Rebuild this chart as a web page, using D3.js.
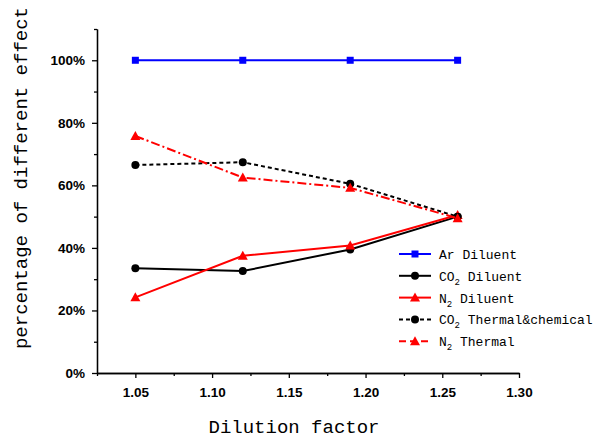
<!DOCTYPE html>
<html>
<head>
    <script src="https://d3js.org/d3.v7.min.js"></script>
    <style>
        body { margin: 0; background: #ffffff; }
    </style>
</head>
<body>
    <svg id="chart" width="595" height="441"></svg>
    <script>
        // data
        var dilution = [1.05, 1.12, 1.19, 1.26];
        var arDiluent = [100, 100, 100, 100];
        var co2Diluent = [33.5, 32.6, 39.5, 50.0];
        var n2Diluent = [24.2, 37.5, 40.8, 50.5];
        var co2Thermal = [66.5, 67.4, 60.5, 50.0];
        var n2Thermal = [75.8, 62.5, 59.2, 49.5];
        var xTicks = [1.05, 1.10, 1.15, 1.20, 1.25, 1.30];
        var yTicks = [0, 20, 40, 60, 80, 100];

        var series = [
            { name: "Ar", rest: " Diluent", sub: false, values: arDiluent, color: "#0000ff", dash: null, marker: "square" },
            { name: "CO", rest: " Diluent", sub: true, values: co2Diluent, color: "#000000", dash: null, marker: "circle" },
            { name: "N", rest: " Diluent", sub: true, values: n2Diluent, color: "#ff0000", dash: null, marker: "triangle" },
            { name: "CO", rest: " Thermal&chemical", sub: true, values: co2Thermal, color: "#000000", dash: "4,3", marker: "circle" },
            { name: "N", rest: " Thermal", sub: true, values: n2Thermal, color: "#ff0000", dash: "9,3,2,3", marker: "triangle" }
        ];

        var svg = d3.select("#chart");
        var plotLeft = 97, plotRight = 519, plotTop = 29, plotBottom = 373;

        var x = d3.scaleLinear().domain([1.025, 1.30]).range([plotLeft, plotRight]);
        var y = d3.scaleLinear().domain([0, 110]).range([plotBottom, plotTop]);

        var xAxis = d3.axisBottom(x)
            .tickValues(xTicks)
            .tickFormat(d3.format(".2f"))
            .tickSizeInner(5).tickSizeOuter(0);
        var xMinor = d3.axisBottom(x)
            .tickValues([1.025, 1.075, 1.125, 1.175, 1.225, 1.275])
            .tickFormat("").tickSizeInner(3).tickSizeOuter(0);
        var yAxis = d3.axisLeft(y)
            .tickValues(yTicks)
            .tickFormat(function (d) { return d + "%"; })
            .tickSizeInner(5).tickSizeOuter(0);
        var yMinor = d3.axisLeft(y)
            .tickValues([10, 30, 50, 70, 90, 110])
            .tickFormat("").tickSizeInner(3).tickSizeOuter(0);

        function styleAxis(g) {
            g.selectAll("path,line").style("stroke", "#000").style("stroke-width", "1.3px");
            g.selectAll("text")
                .style("font-family", "Liberation Sans, Arial, sans-serif")
                .style("font-weight", "bold")
                .style("font-size", "13.5px")
                .style("fill", "#000");
        }

        svg.append("g").attr("transform", "translate(0," + plotBottom + ")").call(xMinor).call(styleAxis);
        svg.append("g").attr("transform", "translate(0," + plotBottom + ")").call(xAxis).call(styleAxis)
            .selectAll("text").attr("dy", "1.15em");
        svg.append("g").attr("transform", "translate(" + plotLeft + ",0)").call(yMinor).call(styleAxis);
        svg.append("g").attr("transform", "translate(" + plotLeft + ",0)").call(yAxis).call(styleAxis)
            .selectAll("text").attr("x", -12);

        // axis titles
        svg.append("text")
            .attr("x", 294).attr("y", 433)
            .attr("text-anchor", "middle")
            .style("font-family", "Liberation Mono, monospace")
            .style("font-size", "19px")
            .text("Dilution factor");

        svg.append("text")
            .attr("transform", "translate(27," + 178 + ") rotate(-90)")
            .attr("text-anchor", "middle")
            .style("font-family", "Liberation Mono, monospace")
            .style("font-size", "19px")
            .text("percentage of different effect");

        function drawMarker(g, type, cx, cy, color) {
            if (type === "square") {
                g.append("rect").attr("x", cx - 3.5).attr("y", cy - 3.5)
                    .attr("width", 7).attr("height", 7).style("fill", color);
            } else if (type === "circle") {
                g.append("circle").attr("cx", cx).attr("cy", cy).attr("r", 4).style("fill", color);
            } else {
                g.append("path")
                    .attr("d", "M" + cx + "," + (cy - 5) + "L" + (cx + 5) + "," + (cy + 4) + "L" + (cx - 5) + "," + (cy + 4) + "Z")
                    .style("fill", color);
            }
        }

        var line = d3.line()
            .x(function (d, i) { return x(dilution[i]); })
            .y(function (d) { return y(d); });

        series.forEach(function (s) {
            var g = svg.append("g");
            g.append("path")
                .attr("d", line(s.values))
                .style("fill", "none")
                .style("stroke", s.color)
                .style("stroke-width", 2)
                .style("stroke-dasharray", s.dash);
            s.values.forEach(function (v, i) {
                drawMarker(g, s.marker, x(dilution[i]), y(v), s.color);
            });
        });

        // legend
        var legend = svg.append("g");
        series.forEach(function (s, i) {
            var ly = 254 + i * 21.8;
            legend.append("line")
                .attr("x1", 399).attr("x2", 431)
                .attr("y1", ly).attr("y2", ly)
                .style("stroke", s.color)
                .style("stroke-width", 2)
                .style("stroke-dasharray", s.dash === "4,3" ? "4,3" : (s.dash ? "7,4" : null));
            drawMarker(legend, s.marker, 415, ly, s.color);
            var t = legend.append("text")
                .attr("x", 439).attr("y", ly + 5)
                .style("font-family", "Liberation Mono, monospace")
                .style("font-size", "13px")
                .style("fill", "#000");
            t.append("tspan").text(s.name);
            if (s.sub) {
                t.append("tspan").attr("dy", 4).style("font-size", "9px").text("2");
                t.append("tspan").attr("dy", -4).text(s.rest);
            } else {
                t.append("tspan").text(s.rest);
            }
        });
    </script>
</body>
</html>
